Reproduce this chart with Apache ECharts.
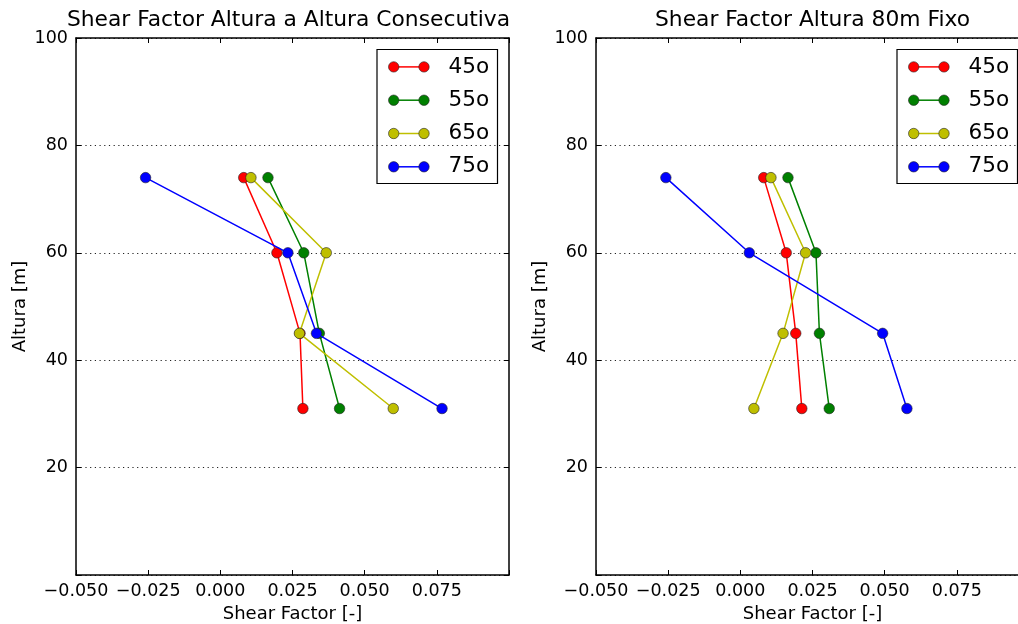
<!DOCTYPE html>
<html>
<head>
<meta charset="utf-8">
<script src="https://cdn.jsdelivr.net/npm/echarts@6/dist/echarts.min.js"></script>
<style>
  html, body { margin: 0; padding: 0; background: #fff; }
  #chart { width: 1018px; height: 624px; }
</style>
</head>
<body>
<div id="chart"></div>
<script>
// Heights (m) of each measurement level
const heights = [74, 60, 45, 31];

// Sector labels and their colours
const sectors = ['45o', '55o', '65o', '75o'];
const colors = ['#ff0000', '#008000', '#bfbf00', '#0000ff'];

// Shear factor between consecutive heights
const consec45 = [0.0081, 0.0196, 0.0276, 0.0286];
const consec55 = [0.0165, 0.0289, 0.0343, 0.0413];
const consec65 = [0.0106, 0.0367, 0.0274, 0.0599];
const consec75 = [-0.0259, 0.0234, 0.0333, 0.0768];

// Shear factor relative to the fixed 80 m height
const fixed45 = [0.0081, 0.0159, 0.0192, 0.0213];
const fixed55 = [0.0165, 0.0262, 0.0274, 0.0308];
const fixed65 = [0.0106, 0.0226, 0.0148, 0.0047];
const fixed75 = [-0.0258, 0.0031, 0.0493, 0.0577];

const titles = ['Shear Factor Altura a Altura Consecutiva', 'Shear Factor Altura 80m Fixo'];
const xName = 'Shear Factor [-]';
const yName = 'Altura [m]';

const consecSets = [consec45, consec55, consec65, consec75];
const fixedSets = [fixed45, fixed55, fixed65, fixed75];

// Panel geometry
const FONT = 'DejaVu Sans';
const TICK_FS = 17.5;
const TITLE_FS = 21.8;
const LEGEND_FS = 21.6;
const panels = [
  { left: 76, top: 38, width: 433, height: 537 },
  { left: 596, top: 38, width: 433, height: 537 }
];

function fmtX(v) {
  if (v > 0.09) return '';
  const s = Math.abs(v).toFixed(3);
  return (v < -1e-9 ? '\u2212' : '') + s;
}
function fmtY(v) {
  return v === 0 ? '' : String(v);
}

const xAxes = [];
const yAxes = [];
const grids = [];
const series = [];
const graphics = [];
const titleOpts = [];

panels.forEach((p, i) => {
  grids.push({
    left: p.left, top: p.top, width: p.width, height: p.height,
    containLabel: false, outerBoundsMode: 'none'
  });
  const axisLine = { show: true, onZero: false, lineStyle: { color: '#000', width: 1.5 } };
  const tick = { show: true, inside: true, length: 5, lineStyle: { color: '#000', width: 1 } };
  // bottom x axis with labels
  xAxes.push({
    type: 'value', gridIndex: i, position: 'bottom', min: -0.05, max: 0.1, interval: 0.025,
    axisLine, axisTick: tick,
    axisLabel: { formatter: fmtX, fontFamily: FONT, fontSize: TICK_FS, color: '#000', margin: 7, showMaxLabel: true },
    splitLine: { show: false },
    name: xName, nameLocation: 'middle', nameGap: 25,
    nameTextStyle: { fontFamily: FONT, fontSize: 18, color: '#000' }
  });
  // top x axis: ticks only
  xAxes.push({
    type: 'value', gridIndex: i, position: 'top', min: -0.05, max: 0.1, interval: 0.025,
    axisLine, axisTick: tick, axisLabel: { show: false }, splitLine: { show: false }
  });
  // left y axis with labels and dotted grid
  yAxes.push({
    type: 'value', gridIndex: i, position: 'left', min: 0, max: 100, interval: 20,
    axisLine, axisTick: tick,
    axisLabel: { formatter: fmtY, fontFamily: FONT, fontSize: TICK_FS, color: '#000', margin: 8 },
    splitLine: { show: true, lineStyle: { color: '#222', width: 1, type: [1.2, 3.5] } },
    name: yName, nameLocation: 'middle', nameGap: 47, nameRotate: 90,
    nameTextStyle: { fontFamily: FONT, fontSize: 18, color: '#000' }
  });
  // right y axis: ticks only
  yAxes.push({
    type: 'value', gridIndex: i, position: 'right', min: 0, max: 100, interval: 20,
    axisLine, axisTick: tick, axisLabel: { show: false }, splitLine: { show: false }
  });

  titleOpts.push({
    text: titles[i],
    left: p.left + p.width / 2 - (i === 0 ? 4 : 0), top: 7, textAlign: 'center', padding: 0,
    textStyle: { fontFamily: FONT, fontSize: TITLE_FS, fontWeight: 'normal', color: '#000', lineHeight: 26 }
  });

  const sets = i === 0 ? consecSets : fixedSets;
  sectors.forEach((name, k) => {
    series.push({
      type: 'line', name, xAxisIndex: i * 2, yAxisIndex: i * 2,
      data: sets[k].map((x, j) => [x, heights[j]]),
      symbol: 'circle', symbolSize: 10.5, showAllSymbol: true,
      lineStyle: { color: colors[k], width: 1.5 },
      itemStyle: { color: colors[k], borderColor: '#222', borderWidth: 0.6 },
      emphasis: { disabled: true },
      z: 2 + k, animation: false
    });
  });

  // legend box
  const bw = 120.5, bh = 134;
  const bx = p.left + p.width - 11.5 - bw;
  const by = p.top + 11.5;
  const children = [{
    type: 'rect', shape: { x: bx, y: by, width: bw, height: bh },
    style: { fill: '#fff', stroke: '#000', lineWidth: 1.2 }
  }];
  sectors.forEach((name, k) => {
    const cy = by + 17.4 + k * 33.3;
    const x1 = bx + 16.7, x2 = bx + 47;
    children.push({ type: 'line', shape: { x1, y1: cy, x2, y2: cy }, style: { stroke: colors[k], lineWidth: 1.5 } });
    [x1, x2].forEach(cx => children.push({
      type: 'circle', shape: { cx, cy, r: 5.2 },
      style: { fill: colors[k], stroke: '#222', lineWidth: 0.6 }
    }));
    children.push({
      type: 'text', x: bx + 71.5, y: cy,
      style: { text: name, font: LEGEND_FS + 'px "' + FONT + '"', fill: '#000', verticalAlign: 'middle', align: 'left' }
    });
  });
  graphics.push({ type: 'group', children, z: 100 });
});

const chart = echarts.init(document.getElementById('chart'), null, { renderer: 'canvas' });
chart.setOption({
  animation: false,
  backgroundColor: '#fff',
  title: titleOpts,
  grid: grids,
  xAxis: xAxes,
  yAxis: yAxes,
  series,
  graphic: graphics
});
</script>
</body>
</html>
